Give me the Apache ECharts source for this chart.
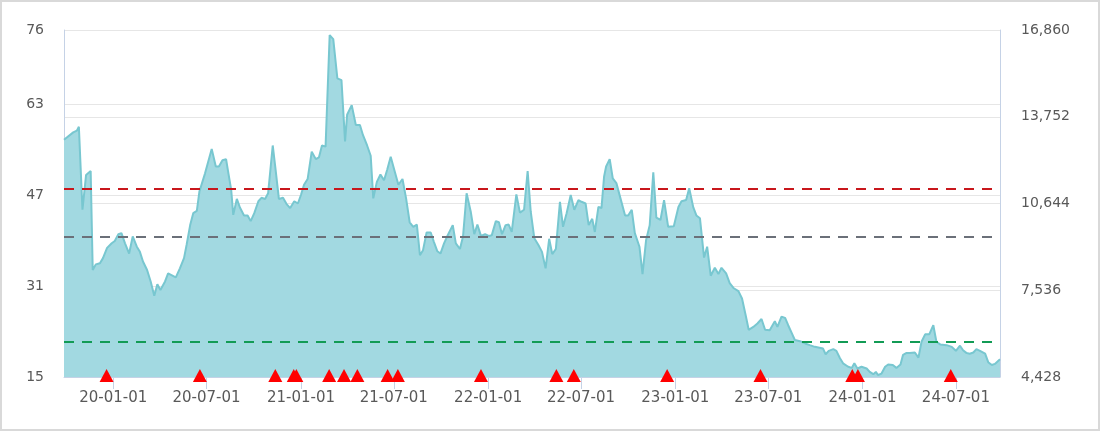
<!DOCTYPE html>
<html><head><meta charset="utf-8">
<script src="https://cdn.jsdelivr.net/npm/echarts@6/dist/echarts.min.js"></script>
<style>
html,body{margin:0;padding:0;background:#fff}
#c{position:absolute;left:0;top:0;width:1100px;height:431px}
#frame{position:absolute;left:0;top:0;width:1100px;height:431px;box-sizing:border-box;border:2px solid #d9d9d9;pointer-events:none}
</style>
</head><body><div id="c"></div><div id="frame"></div>
<script>
const dates = [
'2019-09-27','2019-10-15','2019-10-22','2019-10-26','2019-11-02','2019-11-09','2019-11-18','2019-11-22','2019-11-28','2019-12-06',
'2019-12-12','2019-12-20','2019-12-29','2020-01-04','2020-01-11','2020-01-17','2020-01-24','2020-02-01','2020-02-08','2020-02-16',
'2020-02-22','2020-02-28','2020-03-07','2020-03-14','2020-03-21','2020-03-27','2020-04-02','2020-04-11','2020-04-17','2020-05-02',
'2020-05-10','2020-05-18','2020-05-23','2020-05-30','2020-06-05','2020-06-12','2020-06-17','2020-06-28','2020-07-11','2020-07-19',
'2020-07-25','2020-08-01','2020-08-08','2020-08-12','2020-08-18','2020-08-22','2020-08-29','2020-09-04','2020-09-12','2020-09-19',
'2020-09-25','2020-10-02','2020-10-10','2020-10-16','2020-10-23','2020-10-29','2020-11-07','2020-11-13','2020-11-19','2020-11-27',
'2020-12-04','2020-12-11','2020-12-19','2020-12-26','2021-01-01','2021-01-07','2021-01-14','2021-01-22','2021-01-30','2021-02-05',
'2021-02-11','2021-02-18','2021-02-26','2021-03-05','2021-03-13','2021-03-21','2021-03-28','2021-04-01','2021-04-10','2021-04-18',
'2021-04-26','2021-05-02','2021-05-10','2021-05-17','2021-05-22','2021-05-29','2021-06-05','2021-06-12','2021-06-18','2021-06-25',
'2021-07-03','2021-07-10','2021-07-18','2021-07-25','2021-08-01','2021-08-08','2021-08-15','2021-08-21','2021-08-27','2021-09-03',
'2021-09-11','2021-09-17','2021-09-24','2021-09-30','2021-10-07','2021-10-13','2021-10-24','2021-10-30','2021-11-07','2021-11-13',
'2021-11-20','2021-11-28','2021-12-05','2021-12-11','2021-12-18','2021-12-26','2022-01-02','2022-01-08','2022-01-16','2022-01-22',
'2022-01-28','2022-02-04','2022-02-10','2022-02-16','2022-02-25','2022-03-04','2022-03-12','2022-03-19','2022-03-25','2022-04-01',
'2022-04-09','2022-04-16','2022-04-23','2022-04-30','2022-05-06','2022-05-13','2022-05-21','2022-05-27','2022-06-03','2022-06-11',
'2022-06-18','2022-06-26','2022-07-02','2022-07-10','2022-07-16','2022-07-23','2022-07-28','2022-08-04','2022-08-10','2022-08-15',
'2022-08-19','2022-08-26','2022-09-01','2022-09-08','2022-09-16','2022-09-25','2022-10-01','2022-10-08','2022-10-14','2022-10-23',
'2022-10-29','2022-11-05','2022-11-12','2022-11-19','2022-11-25','2022-12-03','2022-12-10','2022-12-18','2022-12-29','2023-01-07',
'2023-01-13','2023-01-22','2023-01-28','2023-02-05','2023-02-11','2023-02-18','2023-02-26','2023-03-04','2023-03-11','2023-03-19',
'2023-03-26','2023-04-01','2023-04-10','2023-04-17','2023-04-25','2023-05-04','2023-05-11','2023-05-18','2023-05-24','2023-06-02',
'2023-06-10','2023-06-18','2023-06-25','2023-07-04','2023-07-14','2023-07-19','2023-07-27','2023-08-03','2023-08-09','2023-08-16',
'2023-08-22','2023-09-01','2023-09-11','2023-09-20','2023-09-30','2023-10-16','2023-10-21','2023-10-27','2023-11-05','2023-11-11',
'2023-11-18','2023-11-24','2023-12-04','2023-12-11','2023-12-16','2023-12-22','2023-12-30','2024-01-09','2024-01-15','2024-01-22',
'2024-01-27','2024-01-31','2024-02-07','2024-02-14','2024-02-20','2024-02-29','2024-03-07','2024-03-15','2024-03-20','2024-03-26',
'2024-04-02','2024-04-12','2024-04-19','2024-04-25','2024-05-02','2024-05-10','2024-05-18','2024-05-24','2024-06-01','2024-06-13',
'2024-06-23','2024-07-01','2024-07-09','2024-07-15','2024-07-22','2024-07-28','2024-08-04','2024-08-10','2024-08-17','2024-08-27',
'2024-09-02','2024-09-09','2024-09-15','2024-09-25'
];
const pe = [
56.7,58.0,58.3,59.0,44.4,50.5,51.2,33.8,34.8,35.0,
35.9,37.7,38.5,38.9,40.1,40.3,38.5,36.7,39.7,37.9,
37.0,35.3,33.8,31.8,29.3,31.3,30.3,31.8,33.2,32.5,
34.1,35.9,38.2,41.7,43.8,44.2,47.6,50.8,55.1,52.0,
52.0,53.1,53.3,51.1,47.9,43.5,46.3,44.8,43.4,43.4,
42.4,43.8,45.9,46.5,46.3,47.3,55.7,51.1,46.3,46.5,
45.4,44.7,45.9,45.5,47.0,48.8,49.8,54.6,53.3,53.6,
55.7,55.5,75.1,74.4,67.5,67.2,56.4,61.1,62.8,59.3,
59.3,57.5,55.7,53.9,46.4,49.3,50.6,49.6,51.4,53.7,
51.1,48.8,49.8,46.4,42.2,41.4,41.8,36.4,37.3,40.4,
40.4,38.8,37.1,36.7,38.5,39.7,41.7,38.5,37.5,39.7,
47.3,44.1,40.1,41.8,39.8,40.1,39.8,39.9,42.4,42.2,
40.1,41.7,41.8,40.5,47.1,43.9,44.4,51.2,44.1,39.4,
38.2,37.0,34.1,39.3,36.6,37.5,45.8,41.4,43.8,47.0,
44.4,46.1,45.8,45.5,41.7,42.8,40.5,44.9,44.7,50.2,
52.0,53.3,49.9,49.1,46.4,43.4,43.4,44.4,40.3,37.9,
33.1,39.1,41.7,51.0,43.0,42.6,46.1,41.4,41.5,44.9,
45.9,46.1,48.2,44.8,43.4,42.9,36.0,37.9,32.8,34.2,
33.1,34.2,33.2,31.5,30.6,30.1,28.8,25.9,23.3,23.8,
24.4,25.2,23.3,23.2,24.8,23.8,25.6,25.4,24.1,22.7,
21.5,21.3,20.9,20.6,20.3,20.0,19.0,19.6,19.9,19.6,
18.3,17.4,16.8,16.6,17.4,16.5,16.8,16.5,15.9,15.5,
15.9,15.35,15.6,16.8,17.2,17.1,16.6,17.2,18.9,19.2,
19.2,19.3,18.4,21.2,22.5,22.5,24.1,21.2,20.7,20.6,
20.3,19.6,20.5,19.7,19.2,19.1,19.3,19.9,19.6,19.1,
17.6,17.1,17.3,18.1
];
const signalDates = [
'2019-12-19','2020-06-18','2020-11-12','2020-12-18','2020-12-23','2021-02-25','2021-03-26','2021-04-21','2021-06-19',
'2021-07-09','2021-12-18','2022-05-14','2022-06-17','2022-12-16','2023-06-16','2023-12-12','2023-12-23','2024-06-21'
];
const leftTicks = [15, 31, 47, 63, 76];
const rightTicks = [4428, 7536, 10644, 13752, 16860];
const bandLevels = [48.1, 39.7, 21.2];
const bandColors = ['#c8171c', '#6b7079', '#129b55'];

const chart = echarts.init(document.getElementById('c'), null, {renderer: 'canvas'});
const axisColor = '#c5d2e6';
const labelColor = '#595959';
const font = 'DejaVu Sans';

const option = {
  animation: false,
  grid: {left: 64, right: 100, top: 30, bottom: 54, containLabel: false},
  xAxis: {
    type: 'time',
    min: dates[0],
    max: dates[dates.length - 1],
    splitNumber: 10,
    axisLine: {show: true, lineStyle: {color: axisColor, width: 1}},
    axisTick: {show: true, length: 12, lineStyle: {color: axisColor, width: 1}},
    axisLabel: {formatter: '{yy}-{MM}-{dd}', color: labelColor, fontFamily: font, fontSize: 15, margin: 14},
    splitLine: {show: false}
  },
  yAxis: [
    {
      type: 'value', position: 'left',
      min: leftTicks[0], max: leftTicks[leftTicks.length - 1], interval: leftTicks[1] - leftTicks[0],
      axisLine: {show: true, lineStyle: {color: axisColor}},
      axisTick: {show: false},
      axisLabel: {color: labelColor, fontFamily: font, fontSize: 14, margin: 20},
      splitLine: {show: true, lineStyle: {color: '#e6e6e6'}}
    },
    {
      type: 'value', position: 'right',
      min: rightTicks[0], max: rightTicks[rightTicks.length - 1], interval: rightTicks[1] - rightTicks[0],
      axisLine: {show: true, lineStyle: {color: axisColor}},
      axisTick: {show: false},
      axisLabel: {color: labelColor, fontFamily: font, fontSize: 14, margin: 21},
      splitLine: {show: true, lineStyle: {color: '#e6e6e6'}}
    }
  ],
  series: [
    {
      type: 'line', yAxisIndex: 0,
      data: dates.map((d, i) => [d, pe[i]]),
      showSymbol: false, symbol: 'none',
      lineStyle: {color: '#78c7d0', width: 2},
      itemStyle: {color: '#78c7d0'},
      areaStyle: {color: '#a2d9e1', opacity: 1},
      markLine: {
        silent: true, symbol: 'none', label: {show: false},
        data: bandLevels.map((v, i) => ({yAxis: v, lineStyle: {color: bandColors[i], type: [10, 8], width: 2.2, opacity: 1}}))
      },
      z: 2
    },
    {
      type: 'line', yAxisIndex: 1, data: [], showSymbol: false
    },
    {
      type: 'scatter', yAxisIndex: 0, clip: false,
      data: signalDates.map(d => [d, leftTicks[0]]),
      symbol: 'triangle', symbolSize: [14, 13], symbolOffset: [0, -1.5],
      itemStyle: {color: '#ff0000', opacity: 1},
      z: 5
    }
  ]
};
chart.setOption(option);
</script>
</body></html>
